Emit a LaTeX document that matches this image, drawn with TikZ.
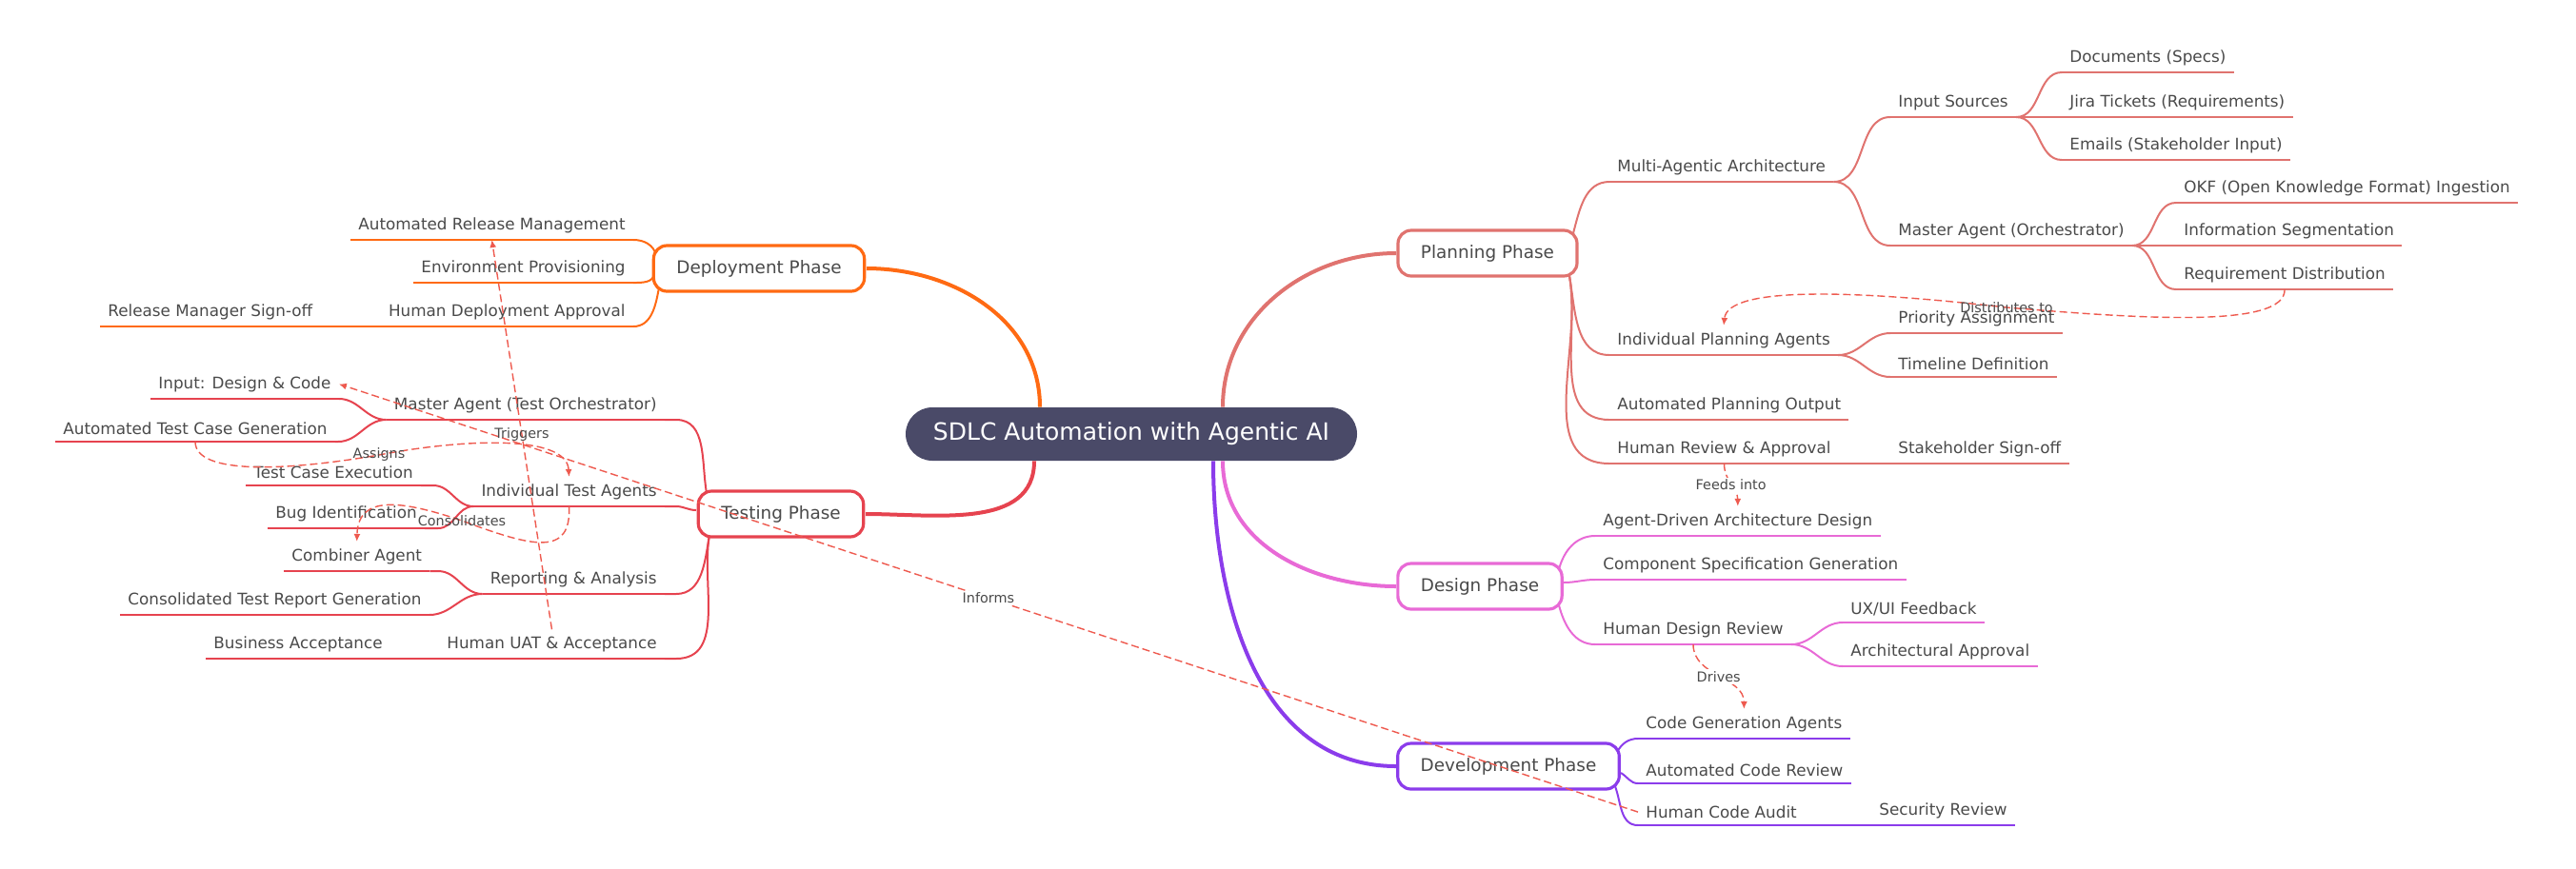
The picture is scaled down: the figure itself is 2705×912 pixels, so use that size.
\documentclass[tikz,border=0pt]{standalone}
\usepackage{fontspec}
\setmainfont{DejaVu Sans}
\usetikzlibrary{arrows.meta,positioning}
\definecolor{plan}{HTML}{E0736F}
\definecolor{deploy}{HTML}{FF6A13}
\definecolor{test}{HTML}{E6434F}
\definecolor{design}{HTML}{E86AD6}
\definecolor{dev}{HTML}{8B3CEB}
\definecolor{dash}{HTML}{EE5A4F}
\definecolor{ink}{HTML}{4A4A4A}
\definecolor{hub}{HTML}{4A4A68}
\begin{document}
\begin{tikzpicture}[x=0.5pt,y=-0.5pt,
		leaf/.style={font=\fontsize{8.4}{10}\selectfont,text=ink,inner xsep=4pt,inner ysep=3.5pt,
		append after command={(\tikzlastnode.south west) edge[draw=#1,line width=1pt] (\tikzlastnode.south east)}},
		phase/.style={draw=#1,line width=1.6pt,rounded corners=7pt,fill=white,text=ink,
		font=\fontsize{9.2}{11}\selectfont,minimum height=24pt,inner xsep=12pt},
		branch/.style={draw=#1,line width=1pt},
		trunk/.style={draw=#1,line width=2pt},
		link/.style={draw=dash,line width=0.7pt,dash pattern=on 4pt off 2pt,-{Latex[length=4pt,width=3.5pt]}},
		tag/.style={font=\fontsize{7.2}{9}\selectfont,text=ink,inner sep=1pt},
		]
		\useasboundingbox (0,0) rectangle (2705,912);
		% hub and phases
		\node[fill=hub,rounded corners=14pt,text=white,minimum width=237pt,minimum height=28pt,
			font=\fontsize{12.5}{15}\selectfont] (hub) at (1188,456) {SDLC Automation with Agentic AI};
		\draw[trunk=plan] ([xshift=48pt]hub.north) to[out=90,in=180] (1466,266) coordinate (pin);
		\draw[trunk=deploy] ([xshift=-48pt]hub.north) to[out=90,in=0] (910,282);
		\draw[trunk=test] ([xshift=-51pt]hub.south) to[out=-90,in=0] (909,540);
		\draw[trunk=design] ([xshift=48pt]hub.south) to[out=-90,in=180] (1466,616);
		\draw[trunk=dev] ([xshift=43pt]hub.south) to[out=-90,in=180] (1466,805);

		% planning
		\path (1690,191) node[leaf=plan,anchor=south west] (maa) {Multi-Agentic Architecture};
		\path (1985,123) node[leaf=plan,anchor=south west] (ins) {Input Sources};
		\path (2165,76) node[leaf=plan,anchor=south west] (docs) {Documents (Specs)};
		\path (2165,123) node[leaf=plan,anchor=south west] (jira) {Jira Tickets (Requirements)};
		\path (2165,168) node[leaf=plan,anchor=south west] (mails) {Emails (Stakeholder Input)};
		\path (1985,258) node[leaf=plan,anchor=south west] (mao) {Master Agent (Orchestrator)};
		\path (2285,213) node[leaf=plan,anchor=south west] (okf) {OKF (Open Knowledge Format) Ingestion};
		\path (2285,258) node[leaf=plan,anchor=south west] (seg) {Information Segmentation};
		\path (2285,304) node[leaf=plan,anchor=south west] (rd) {Requirement Distribution};
		\path (1690,373) node[leaf=plan,anchor=south west] (ipa) {Individual Planning Agents};
		\path (1985,350) node[leaf=plan,anchor=south west] (pa) {Priority Assignment};
		\path (1985,396) node[leaf=plan,anchor=south west] (tld) {Timeline Definition};
		\path (1690,441) node[leaf=plan,anchor=south west] (apo) {Automated Planning Output};
		\path (1690,487) node[leaf=plan,anchor=south west] (hra) {Human Review \& Approval};
		\path (1985,487) node[leaf=plan,anchor=south west] (sso) {Stakeholder Sign-off};
		\draw[branch=plan] (1652,245) to[out=75,in=180] (maa.south west);
		\foreach \c in {ipa,apo,hra}
			\draw[branch=plan] (1648,290) to[out=-80,in=180] (\c.south west);
		\foreach \c in {ins,mao}
			\draw[branch=plan] (maa.south east) to[out=0,in=180] (\c.south west);
		\foreach \c in {docs,jira,mails}
			\draw[branch=plan] (ins.south east) to[out=0,in=180] (\c.south west);
		\foreach \c in {okf,seg,rd}
			\draw[branch=plan] (mao.south east) to[out=0,in=180] (\c.south west);
		\foreach \c in {pa,tld}
			\draw[branch=plan] (ipa.south east) to[out=0,in=180] (\c.south west);
		\draw[branch=plan] (hra.south east) -- (sso.south west);

		% deployment
		\path (665,252) node[leaf=deploy,anchor=south east] (arm) {Automated Release Management};
		\path (665,297) node[leaf=deploy,anchor=south east] (envp) {Environment Provisioning};
		\path (665,343) node[leaf=deploy,anchor=south east] (hda) {Human Deployment Approval};
		\path (105,343) node[leaf=deploy,anchor=south west] (rms) {Release Manager Sign-off};
		\draw[branch=deploy] (arm.south east) to[out=0,in=105] (689,268);
		\draw[branch=deploy] (envp.south east) to[out=0,in=-100] (687,288);
		\draw[branch=deploy] (hda.south east) to[out=0,in=-100] (692,302);
		\draw[branch=deploy] (rms.south east) -- (hda.south west);

		% testing
		\path (698,441) node[leaf=test,anchor=south east] (mato) {Master Agent (Test Orchestrator)};
		\path (158,419) node[leaf=test,anchor=south west] (idc) {Input: Design \& Code};
		\path (58,464) node[leaf=test,anchor=south west] (atcg) {Automated Test Case Generation};
		\path (698,532) node[leaf=test,anchor=south east] (ita) {Individual Test Agents};
		\path (258,510) node[leaf=test,anchor=south west] (tce) {Test Case Execution};
		\path (281,555) node[leaf=test,anchor=south west] (bug) {Bug Identification};
		\path (698,624) node[leaf=test,anchor=south east] (ra) {Reporting \& Analysis};
		\path (298,600) node[leaf=test,anchor=south west] (comb) {Combiner Agent};
		\path (126,646) node[leaf=test,anchor=south west] (ctrg) {Consolidated Test Report Generation};
		\path (698,692) node[leaf=test,anchor=south east] (uat) {Human UAT \& Acceptance};
		\path (216,692) node[leaf=test,anchor=south west] (bacc) {Business Acceptance};
		\draw[branch=test] (mato.south east) -- ++(12,0) to[out=0,in=100] (742,518);
		\draw[branch=test] (ita.south east) -- ++(12,0) to[out=0,in=180] (731,536);
		\foreach \c in {ra,uat}
			\draw[branch=test] (\c.south east) -- ++(12,0) to[out=0,in=-100] (745,562);
		\draw[branch=test] (mato.south west) to[out=180,in=0] (idc.south east);
		\draw[branch=test] (mato.south west) to[out=180,in=0] (355,464) -- (atcg.south east);
		\draw[branch=test] (ita.south west) to[out=180,in=0] (455,510) -- (tce.south east);
		\draw[branch=test] (ita.south west) to[out=180,in=0] (460,555) -- (bug.south east);
		\draw[branch=test] (ra.south west) to[out=180,in=0] (460,600) -- (comb.south east);
		\draw[branch=test] (ra.south west) to[out=180,in=0] (ctrg.south east);
		\draw[branch=test] (bacc.south east) -- (uat.south west);

		% design
		\path (1675,563) node[leaf=design,anchor=south west] (ada) {Agent-Driven Architecture Design};
		\path (1675,609) node[leaf=design,anchor=south west] (csg) {Component Specification Generation};
		\path (1675,677) node[leaf=design,anchor=south west] (hdr) {Human Design Review};
		\path (1935,654) node[leaf=design,anchor=south west] (uxf) {UX/UI Feedback};
		\path (1935,700) node[leaf=design,anchor=south west] (aap) {Architectural Approval};
		\draw[branch=design] (1637,598) to[out=75,in=180] (ada.south west);
		\draw[branch=design] (1642,612) to[out=0,in=180] (csg.south west);
		\draw[branch=design] (1637,636) to[out=-75,in=180] (hdr.south west);
		\foreach \c in {uxf,aap}
			\draw[branch=design] (hdr.south east) to[out=0,in=180] (\c.south west);

		% development
		\path (1720,776) node[leaf=dev,anchor=south west] (cga) {Code Generation Agents};
		\path (1720,823) node[leaf=dev,anchor=south west] (acr) {Automated Code Review};
		\path (1720,867) node[leaf=dev,anchor=south west] (hca) {Human Code Audit};
		\path (1965,867) node[leaf=dev,anchor=south west] (secr) {Security Review};
		\draw[branch=dev] (1698,790) to[out=60,in=180] (cga.south west);
		\draw[branch=dev] (1702,812) to[out=-30,in=180] (acr.south west);
		\draw[branch=dev] (1696,826) to[out=-70,in=180] (hca.south west);
		\draw[branch=dev] (hca.south east) -- (secr.south west);

		% phase boxes drawn over the branch ends
		\node[phase=plan] (planning) at (1562,266) {Planning Phase};
		\node[phase=deploy] (deployment) at (797,282) {Deployment Phase};
		\node[phase=test] (testing) at (820,540) {Testing Phase};
		\node[phase=design] (designph) at (1554,616) {Design Phase};
		\node[phase=dev] (devph) at (1584,805) {Development Phase};

		% cross links
		\draw[link] (rd.south) .. controls (2400,345) and (2250,335) .. (2107,323) node[tag] {Distributes to}
			.. controls (1950,305) and (1814,300) .. (ipa.north);
		\draw[link] (hra.south) to[out=-90,in=90] node[tag,fill=white] {Feeds into} (ada.north);
		\draw[link] (hdr.south) to[out=-90,in=90] node[tag,fill=white] {Drives} (cga.north);
		\draw[link] (hca.west) -- node[tag,fill=white] {Informs} (idc.east);
		\draw[link] (uat.north) -- node[tag] {Triggers} (arm.south);
		\draw[link] (atcg.south) .. controls +(0,35) and (300,495) .. (398,478) node[tag] {Assigns}
			.. controls (480,462) and (595,455) .. (ita.north);
		\draw[link] (ita.south) .. controls (600,585) and (560,575) .. (485,547) node[tag] {Consolidates}
			.. controls (420,525) and (376,520) .. (comb.north);
	\end{tikzpicture}
\end{document}
